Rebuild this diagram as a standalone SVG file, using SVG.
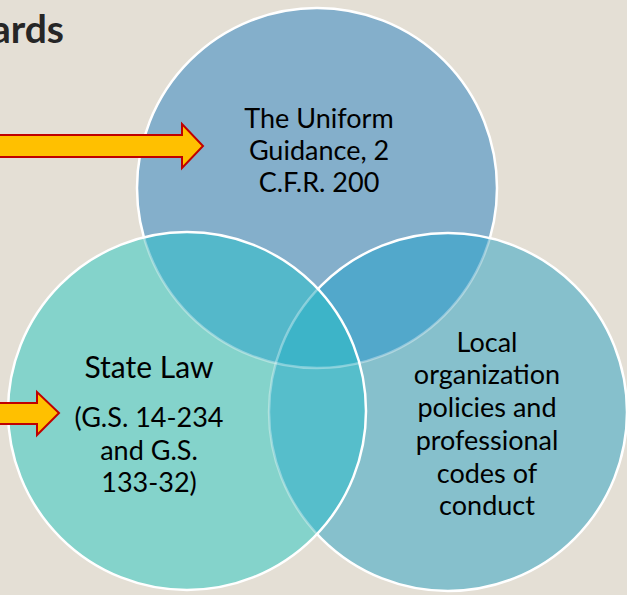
<svg xmlns="http://www.w3.org/2000/svg" width="627" height="595" viewBox="0 0 627 595">
  <style>
    .lbl { font-family: Lato, "Open Sans", "Liberation Sans", sans-serif; font-size: 27px; fill: #000; text-anchor: middle; }
    .big { font-size: 30px; }
    .ring { fill: none; stroke: #fff; stroke-width: 2.5; }
    .faint { fill: none; stroke: #fff; stroke-width: 2.5; stroke-opacity: 0.35; }
    .arrow { fill: #FFC000; stroke: #C00000; stroke-width: 2; stroke-linejoin: miter; }
  </style>
  <defs>
    <circle id="cT" cx="317" cy="188" r="180"/>
    <circle id="cL" cx="187" cy="411" r="179"/>
    <circle id="cR" cx="448" cy="412" r="179"/>
    <clipPath id="clipT"><use href="#cT"/></clipPath>
    <clipPath id="clipL"><use href="#cL"/></clipPath>
    <clipPath id="clipR"><use href="#cR"/></clipPath>
  </defs>

  <rect width="627" height="595" fill="#E4DFD5"/>

  <!-- page heading, cut at the left edge -->
  <text x="64" y="43" font-family="Lato, 'Open Sans', sans-serif" font-weight="bold" font-size="39" fill="#262626" text-anchor="end">ards</text>

  <!-- top circle -->
  <g id="node-uniform-guidance">
    <use href="#cT" fill="#84AFCB"/>
    <use href="#cT" class="ring"/>
  </g>

  <!-- right circle, with its overlap on the top circle -->
  <g id="node-local-policies">
    <use href="#cR" fill="#86C0CC"/>
    <use href="#cR" fill="#52A8CB" clip-path="url(#clipT)"/>
    <use href="#cT" class="faint" clip-path="url(#clipR)"/>
    <use href="#cR" class="ring"/>
  </g>

  <!-- left circle, with its overlaps -->
  <g id="node-state-law">
    <use href="#cL" fill="#84D3CB"/>
    <use href="#cL" fill="#54B8CA" clip-path="url(#clipT)"/>
    <use href="#cL" fill="#56BECB" clip-path="url(#clipR)"/>
    <g clip-path="url(#clipT)">
      <use href="#cL" fill="#3DB4C8" clip-path="url(#clipR)"/>
    </g>
    <g clip-path="url(#clipL)">
      <use href="#cT" class="faint"/>
      <use href="#cR" class="faint"/>
    </g>
    <use href="#cL" class="ring"/>
  </g>

  <!-- labels -->
  <g id="label-uniform-guidance" class="lbl">
    <text x="319" y="128">The Uniform</text>
    <text x="319" y="160">Guidance, 2</text>
    <text x="319" y="192">C.F.R. 200</text>
  </g>
  <g id="label-state-law" class="lbl">
    <text x="149" y="378" class="big">State Law</text>
    <text x="149" y="427">(G.S. 14-234</text>
    <text x="149" y="460">and G.S.</text>
    <text x="149" y="492">133-32)</text>
  </g>
  <g id="label-local-policies" class="lbl">
    <text x="487" y="352">Local</text>
    <text x="487" y="384">organization</text>
    <text x="487" y="417">policies and</text>
    <text x="487" y="450">professional</text>
    <text x="487" y="483">codes of</text>
    <text x="487" y="515">conduct</text>
  </g>

  <!-- block arrows pointing into the circles -->
  <g id="connectors">
    <path class="arrow" d="M -5 135 L 182 135 L 182 124 L 203 146 L 182 168 L 182 157 L -5 157 Z"/>
    <path class="arrow" d="M -5 403 L 37 403 L 37 392 L 59 413 L 37 435 L 37 424 L -5 424 Z"/>
  </g>
</svg>
